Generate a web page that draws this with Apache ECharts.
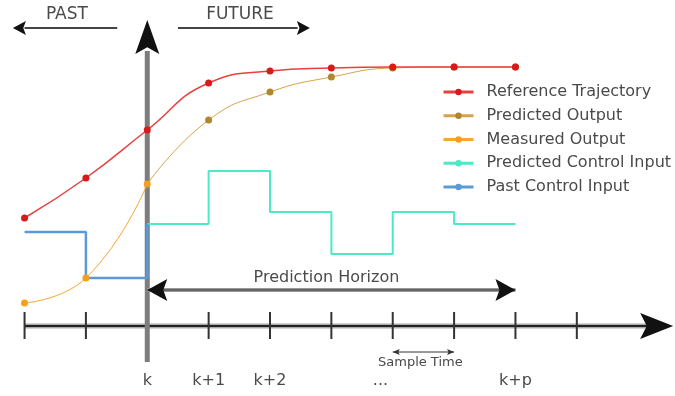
<!DOCTYPE html>
<html>
<head>
<meta charset="utf-8">
<script src="https://cdn.jsdelivr.net/npm/echarts@6/dist/echarts.min.js"></script>
<style>
  html, body { margin: 0; padding: 0; background: #fff; }
  #chart { width: 675px; height: 396px; }
</style>
</head>
<body>
<div id="chart"></div>
<script>
// x = sample step relative to k, y = signal level (time axis at 0)
const refSteps = [-2, -1, 0, 1, 2, 3, 4, 5, 6];
const refValues = [10.8, 14.8, 19.6, 24.3, 25.5, 25.8, 25.9, 25.9, 25.9];
const predSteps = [0, 1, 2, 3, 4, 5, 6];
const predValues = [14.2, 20.6, 23.4, 24.9, 25.8, 25.9, 25.9];
const measSteps = [-2, -1, 0];
const measValues = [2.3, 4.8, 14.2];
// step-wise control inputs (value holds until next step)
const pastCtrlSteps = [-2, -1, 0];
const pastCtrlValues = [9.4, 4.8, 10.2];
const predCtrlSteps = [0, 1, 2, 3, 4, 5, 6];
const predCtrlValues = [10.2, 15.5, 11.4, 7.2, 11.4, 10.2, 10.2];

// time axis ticks and labels
const tickSteps = [-2, -1, 0, 1, 2, 3, 4, 5, 6, 7];
const tickLabels = ['k', 'k+1', 'k+2', '...', 'k+p'];
const tickLabelSteps = [0, 1, 2, 3.8, 6];

const seriesNames = ['Reference Trajectory', 'Predicted Output', 'Measured Output',
  'Predicted Control Input', 'Past Control Input'];

const FONT = '"DejaVu Sans", sans-serif';
const TEXT = '#4a4a4a';

const pairs = (xs, ys) => xs.map((x, i) => [x, ys[i]]);

// dart-like arrow head, tip in pixels, ang = pointing direction
function head(tip, ang, len, half, color) {
  const c = Math.cos(ang), s = Math.sin(ang);
  const bx = tip[0] - c * len, by = tip[1] - s * len;
  const nx = tip[0] - c * len * 0.8, ny = tip[1] - s * len * 0.8;
  return {
    type: 'polygon',
    shape: { points: [tip, [bx - s * half, by + c * half], [nx, ny], [bx + s * half, by - c * half]] },
    style: { fill: color }
  };
}
function seg(a, b, w, color) {
  return { type: 'line', shape: { x1: a[0], y1: a[1], x2: b[0], y2: b[1] }, style: { stroke: color, lineWidth: w } };
}
function label(p, str, size, color) {
  return {
    type: 'text', x: p[0], y: p[1],
    style: { text: str, fontSize: size, fontFamily: FONT, fill: color, align: 'center', verticalAlign: 'middle' }
  };
}

function renderFrame(params, api) {
  const P = (x, y) => api.coord([x, y]);
  const ch = [];
  // time axis
  ch.push(seg(P(-2, 0), P(8.3, 0), 5, '#aaa'));
  ch.push(seg(P(-2, 0), P(8.3, 0), 2, '#222'));
  tickSteps.forEach(t => ch.push(seg(P(t, 1.4), P(t, -1.3), 2, '#333')));
  ch.push(head(P(8.57, 0), 0, 33, 13, '#111'));
  // vertical "now" axis
  ch.push(seg(P(0, -3.6), P(0, 27.5), 5, '#7d7d7d'));
  ch.push(head(P(0, 30.6), -Math.PI / 2, 34, 12, '#111'));
  // prediction horizon
  ch.push(seg(P(0, 3.6), P(6, 3.6), 4, '#999'));
  ch.push(seg(P(0, 3.6), P(6, 3.6), 1.5, '#555'));
  ch.push(head(P(0, 3.6), Math.PI, 20, 11, '#111'));
  ch.push(head(P(6, 3.6), 0, 20, 11, '#111'));
  ch.push(label(P(2.92, 4.8), 'Prediction Horizon', 16, TEXT));
  // sample time
  ch.push(seg(P(4, -2.6), P(5, -2.6), 1, '#333'));
  ch.push(head(P(4, -2.6), Math.PI, 7, 3, '#333'));
  ch.push(head(P(5, -2.6), 0, 7, 3, '#333'));
  ch.push(label(P(4.45, -3.7), 'Sample Time', 13, TEXT));
  // tick labels
  tickLabels.forEach((t, i) => ch.push(label(P(tickLabelSteps[i], -5.5), t, 16, TEXT)));
  // past / future
  ch.push(seg(P(-2.0, 29.8), P(-0.49, 29.8), 2, '#444'));
  ch.push(head(P(-2.19, 29.8), Math.PI, 13, 7, '#111'));
  ch.push(label(P(-1.31, 31.1), 'PAST', 17, TEXT));
  ch.push(seg(P(0.5, 29.8), P(2.45, 29.8), 2, '#444'));
  ch.push(head(P(2.65, 29.8), 0, 13, 7, '#111'));
  ch.push(label(P(1.51, 31.1), 'FUTURE', 17, TEXT));
  return { type: 'group', children: ch };
}

const chart = echarts.init(document.getElementById('chart'));
chart.setOption({
  animation: false,
  backgroundColor: '#fff',
  grid: { left: 0, right: 0, top: 0, bottom: 0 },
  xAxis: { type: 'value', min: -2.4, max: 8.6, show: false },
  yAxis: { type: 'value', min: -7, max: 32.6, show: false },
  legend: {
    data: seriesNames,
    orient: 'vertical',
    left: 437,
    top: 79,
    itemWidth: 30,
    itemHeight: 8,
    itemGap: 7.75,
    lineStyle: { width: 3 },
    textStyle: { fontFamily: FONT, fontSize: 16, color: TEXT, lineHeight: 16, padding: [0, 0, 0, 8] }
  },
  series: [
    {
      type: 'custom',
      renderItem: renderFrame,
      data: [0],
      clip: false,
      silent: true,
      z: 1
    },
    {
      name: seriesNames[0], type: 'line', data: pairs(refSteps, refValues),
      smooth: 0.5, symbol: 'circle', symbolSize: 7, z: 5,
      lineStyle: { color: '#e8403f', width: 1.5 }, itemStyle: { color: '#d71a1c' }
    },
    {
      name: seriesNames[1], type: 'line',
      data: pairs(predSteps, predValues).map((p, i) => i === 0 ? { value: p, symbol: 'none' } : p),
      smooth: 0.5, symbol: 'circle', symbolSize: 7, z: 4,
      lineStyle: { color: '#d6a24a', width: 1 }, itemStyle: { color: '#b0862e' }
    },
    {
      name: seriesNames[2], type: 'line', data: pairs(measSteps, measValues),
      smooth: 0.5, symbol: 'circle', symbolSize: 7, z: 4,
      lineStyle: { color: '#f7a631', width: 1 }, itemStyle: { color: '#f5a01a' }
    },
    {
      name: seriesNames[3], type: 'line', data: pairs(predCtrlSteps, predCtrlValues),
      step: 'end', symbol: 'none', z: 3,
      lineStyle: { color: '#4de8c5', width: 2 }, itemStyle: { color: '#4de8c5' }
    },
    {
      name: seriesNames[4], type: 'line', data: pairs(pastCtrlSteps, pastCtrlValues),
      step: 'end', symbol: 'none', z: 3,
      lineStyle: { color: '#5b9ad6', width: 2.5 }, itemStyle: { color: '#5b9ad6' }
    }
  ]
});
</script>
</body>
</html>
